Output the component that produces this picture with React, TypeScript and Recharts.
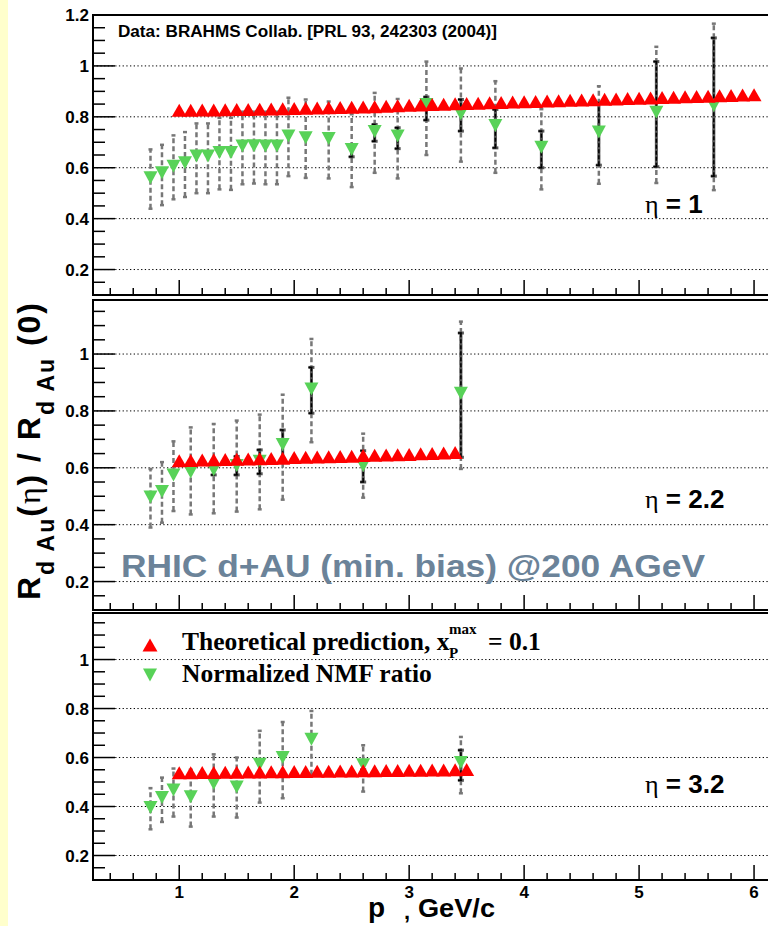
import React from "react";
import { ComposedChart, Scatter, XAxis, YAxis, ReferenceLine, ReferenceArea, ErrorBar } from "recharts";

// theory curves (red up-triangles)
const theoryX1 = [1.0, 1.1, 1.2, 1.3, 1.4, 1.5, 1.6, 1.7, 1.8, 1.9, 2.0, 2.1, 2.2, 2.3, 2.4, 2.5, 2.6, 2.7, 2.8, 2.9, 3.0, 3.1, 3.2, 3.3, 3.4, 3.5, 3.6, 3.7, 3.8, 3.9, 4.0, 4.1, 4.2, 4.3, 4.4, 4.5, 4.6, 4.7, 4.8, 4.9, 5.0, 5.1, 5.2, 5.3, 5.4, 5.5, 5.6, 5.7, 5.8, 5.9, 6.0];
const theoryY1 = [0.826, 0.826, 0.827, 0.827, 0.828, 0.829, 0.829, 0.83, 0.831, 0.832, 0.833, 0.834, 0.835, 0.836, 0.837, 0.838, 0.839, 0.84, 0.842, 0.843, 0.845, 0.846, 0.848, 0.849, 0.851, 0.852, 0.853, 0.855, 0.856, 0.858, 0.859, 0.86, 0.862, 0.863, 0.865, 0.866, 0.867, 0.869, 0.87, 0.872, 0.873, 0.874, 0.876, 0.877, 0.879, 0.88, 0.881, 0.883, 0.884, 0.886, 0.887];
const theoryX2 = [1.0, 1.1, 1.2, 1.3, 1.4, 1.5, 1.6, 1.7, 1.8, 1.9, 2.0, 2.1, 2.2, 2.3, 2.4, 2.5, 2.6, 2.7, 2.8, 2.9, 3.0, 3.1, 3.2, 3.3, 3.4];
const theoryY2 = [0.625, 0.626, 0.627, 0.628, 0.629, 0.63, 0.631, 0.632, 0.633, 0.634, 0.636, 0.637, 0.638, 0.639, 0.64, 0.641, 0.643, 0.644, 0.645, 0.646, 0.647, 0.649, 0.65, 0.652, 0.654];
const theoryX3 = [1.0, 1.1, 1.2, 1.3, 1.4, 1.5, 1.6, 1.7, 1.8, 1.9, 2.0, 2.1, 2.2, 2.3, 2.4, 2.5, 2.6, 2.7, 2.8, 2.9, 3.0, 3.1, 3.2, 3.3, 3.4, 3.5];
const theoryY3 = [0.538, 0.538, 0.539, 0.539, 0.54, 0.54, 0.541, 0.541, 0.542, 0.542, 0.543, 0.543, 0.544, 0.544, 0.545, 0.545, 0.546, 0.546, 0.547, 0.547, 0.548, 0.548, 0.549, 0.549, 0.55, 0.551];

// BRAHMS / NMF ratio (green down-triangles), eta = 1
const dataX1 = [0.75, 0.85, 0.95, 1.05, 1.15, 1.25, 1.35, 1.45, 1.55, 1.65, 1.75, 1.85, 1.95, 2.1, 2.3, 2.5, 2.7, 2.9, 3.15, 3.45, 3.75, 4.15, 4.65, 5.15, 5.65];
const dataY1 = [0.561, 0.58, 0.606, 0.62, 0.646, 0.646, 0.66, 0.66, 0.685, 0.686, 0.685, 0.685, 0.725, 0.718, 0.715, 0.672, 0.742, 0.725, 0.848, 0.812, 0.766, 0.68, 0.74, 0.818, 0.844];
const sysLo1 = [0.439, 0.453, 0.476, 0.485, 0.5, 0.5, 0.515, 0.513, 0.535, 0.538, 0.535, 0.535, 0.567, 0.56, 0.558, 0.524, 0.58, 0.558, 0.65, 0.624, 0.58, 0.515, 0.537, 0.54, 0.512];
const sysHi1 = [0.672, 0.69, 0.727, 0.74, 0.774, 0.774, 0.796, 0.796, 0.82, 0.82, 0.82, 0.82, 0.875, 0.868, 0.86, 0.81, 0.894, 0.87, 1.017, 0.99, 0.94, 0.83, 0.92, 1.075, 1.166];
const statLo1 = [null, null, null, null, null, null, null, null, null, null, null, null, null, null, null, 0.643, 0.704, 0.675, 0.787, 0.744, 0.678, 0.6, 0.61, 0.604, 0.567];
const statHi1 = [null, null, null, null, null, null, null, null, null, null, null, null, null, null, null, 0.69, 0.77, 0.757, 0.878, 0.868, 0.829, 0.744, 0.855, 1.017, 1.11];

// eta = 2.2
const dataX2 = [0.75, 0.85, 0.95, 1.1, 1.3, 1.5, 1.7, 1.9, 2.15, 2.6, 3.45];
const dataY2 = [0.497, 0.517, 0.575, 0.585, 0.593, 0.608, 0.623, 0.682, 0.877, 0.608, 0.862];
const sysLo2 = [0.39, 0.407, 0.448, 0.436, 0.44, 0.446, 0.454, 0.488, 0.69, 0.495, 0.596];
const sysHi2 = [0.596, 0.62, 0.693, 0.742, 0.754, 0.766, 0.787, 0.857, 1.053, 0.72, 1.114];
const statLo2 = [null, null, null, null, 0.575, 0.575, 0.579, 0.623, 0.792, 0.55, 0.637];
const statHi2 = [null, null, null, null, 0.615, 0.64, 0.663, 0.733, 0.953, 0.66, 1.074];

// eta = 3.2
const dataX3 = [0.75, 0.85, 0.95, 1.1, 1.3, 1.5, 1.7, 1.9, 2.15, 2.6, 3.45];
const dataY3 = [0.396, 0.437, 0.467, 0.44, 0.494, 0.48, 0.573, 0.6, 0.675, 0.57, 0.58];
const sysLo3 = [0.307, 0.337, 0.359, 0.318, 0.359, 0.355, 0.416, 0.434, 0.53, 0.461, 0.454];
const sysHi3 = [0.475, 0.518, 0.555, 0.55, 0.613, 0.6, 0.709, 0.745, 0.79, 0.65, 0.684];
const statLo3 = [null, null, null, null, null, null, null, null, null, 0.55, 0.507];
const statHi3 = [null, null, null, null, null, null, null, null, null, 0.585, 0.63];

// axis ticks
const xMajorTicks = [1, 2, 3, 4, 5, 6];
const xMinorStep = 0.2;
const yMajorTicks = [0.2, 0.4, 0.6, 0.8, 1.0, 1.2];
const yMinorStep = 0.05;
const yTickLabels: Record<string, string> = { "0.2": "0.2", "0.4": "0.4", "0.6": "0.6", "0.8": "0.8", "1": "1", "1.2": "1.2" };

const X_DOMAIN: [number, number] = [0.25, 6.13];
const SANS = "'Liberation Sans', Arial, Helvetica, sans-serif";
const SERIF = "'Liberation Serif', 'Times New Roman', serif";
const RED = "#ff0000";
const GREEN = "#58d258";

const r2 = (v: number) => Math.round(v * 1000) / 1000;

function makeTicks(lo: number, hi: number, step: number) {
  const out: number[] = [];
  for (let i = Math.ceil(lo / step - 1e-6); i * step <= hi + 1e-6; i++) out.push(r2(i * step));
  return out;
}
const xTicks = makeTicks(0.4, xMajorTicks[xMajorTicks.length - 1], xMinorStep);

const theoryRows = (xs: number[], ys: number[]) => xs.map((x, i) => ({ x, y: ys[i] }));
const dataRows = (xs: number[], ys: number[], sl: number[], sh: number[], tl: (number | null)[], th: (number | null)[]) =>
  xs.map((x, i) => ({
    x,
    y: ys[i],
    sys: [r2(ys[i] - sl[i]), r2(sh[i] - ys[i])],
    stat: tl[i] == null ? undefined : [r2(ys[i] - (tl[i] as number)), r2((th[i] as number) - ys[i])],
  }));

const UpTri = (p: any) => {
  const { cx, cy } = p;
  if (cx == null || cy == null) return <g />;
  return <path d={`M${cx - 7.5},${cy + 6.5}L${cx + 7.5},${cy + 6.5}L${cx},${cy - 6.5}Z`} fill={RED} />;
};
const DownTri = (p: any) => {
  const { cx, cy } = p;
  if (cx == null || cy == null) return <g />;
  return <path d={`M${cx - 7},${cy - 6.5}L${cx + 7},${cy - 6.5}L${cx},${cy + 6.5}Z`} fill={GREEN} />;
};
const Blank = () => <g />;

const isMult = (v: number, s: number) => Math.abs(v / s - Math.round(v / s)) < 1e-6;

const XTick = (p: any) => {
  const { x, y, payload, labels } = p;
  const v = payload.value;
  const major = isMult(v, 1);
  return (
    <g>
      <line x1={x} x2={x} y1={y} y2={y - (major ? 15 : 7)} stroke="#000" strokeWidth={1.5} />
      {major && labels && (
        <text x={x} y={y + 18} textAnchor="middle" fontFamily={SANS} fontWeight={700} fontSize={17} fill="#000">
          {String(v)}
        </text>
      )}
    </g>
  );
};

const YTick = (p: any) => {
  const { x, y, payload } = p;
  const v = payload.value;
  const major = isMult(v, 0.2);
  return (
    <g>
      <line x1={x} x2={x + (major ? 22 : 12)} y1={y} y2={y} stroke="#000" strokeWidth={1.5} />
      {major && (
        <text x={x - 4} y={y} dy="0.36em" textAnchor="end" fontFamily={SANS} fontWeight={700} fontSize={17} fill="#000">
          {yTickLabels[String(v)]}
        </text>
      )}
    </g>
  );
};

function Panel({ top, mt, plotH, xh, yMax, theory, data, labels }: any) {
  const yDomain: [number, number] = [0.1, yMax];
  const yTicks = makeTicks(0.15, yMax, yMinorStep);
  const grid = yMajorTicks.filter((v) => v <= yMax + 1e-6);
  return (
    <div style={{ position: "absolute", left: 0, top }}>
      <ComposedChart width={780} height={mt + plotH + xh} margin={{ top: mt, right: 11, bottom: 0, left: 0 }}>
        <XAxis
          type="number"
          dataKey="x"
          domain={X_DOMAIN}
          ticks={xTicks}
          interval={0}
          tickSize={0}
          tickMargin={0}
          axisLine={false}
          height={xh}
          allowDataOverflow
          tick={<XTick labels={labels} />}
        />
        <YAxis
          type="number"
          dataKey="y"
          domain={yDomain}
          ticks={yTicks}
          interval={0}
          tickSize={0}
          tickMargin={0}
          axisLine={false}
          width={93}
          allowDataOverflow
          tick={<YTick />}
        />
        {grid.map((v) => (
          <ReferenceLine key={v} y={v} stroke="#000" strokeWidth={1} strokeDasharray="1.3 2.4" />
        ))}
        <Scatter data={data} dataKey="y" shape={DownTri} isAnimationActive={false} />
        <Scatter data={theory} dataKey="y" shape={UpTri} isAnimationActive={false} />
        <Scatter data={data} dataKey="y" shape={Blank} isAnimationActive={false}>
          <ErrorBar dataKey="sys" direction="y" width={2} stroke="#777" strokeWidth={2.5} strokeDasharray="5 3" isAnimationActive={false} />
          <ErrorBar dataKey="stat" direction="y" width={3} stroke="#555" strokeWidth={3} isAnimationActive={false} />
          <ErrorBar dataKey="stat" direction="y" width={3} stroke="#000" strokeWidth={1.5} strokeDasharray="4 2" isAnimationActive={false} />
        </Scatter>
        <ReferenceArea x1={X_DOMAIN[0]} x2={X_DOMAIN[1]} y1={yDomain[0]} y2={yDomain[1]} fill="none" stroke="#000" strokeWidth={2} ifOverflow="visible" />
      </ComposedChart>
    </div>
  );
}

export default function App() {
  const t1 = theoryRows(theoryX1, theoryY1);
  const t2 = theoryRows(theoryX2, theoryY2);
  const t3 = theoryRows(theoryX3, theoryY3);
  const d1 = dataRows(dataX1, dataY1, sysLo1, sysHi1, statLo1, statHi1);
  const d2 = dataRows(dataX2, dataY2, sysLo2, sysHi2, statLo2, statHi2);
  const d3 = dataRows(dataX3, dataY3, sysLo3, sysHi3, statLo3, statHi3);
  return (
    <div style={{ position: "absolute", left: 0, top: 0, width: 768, height: 926, overflow: "hidden", background: "#fff" }}>
      <div style={{ position: "absolute", left: 0, top: 0, width: 8, height: 926, background: "#ffffcc" }} />
      <Panel top={0} mt={15} plotH={280} xh={2} yMax={1.2} theory={t1} data={d1} labels={false} />
      <Panel top={298} mt={2} plotH={310} xh={2} yMax={1.19} theory={t2} data={d2} labels={false} />
      <Panel top={611} mt={2} plotH={267} xh={40} yMax={1.19} theory={t3} data={d3} labels={true} />
      <svg width={768} height={926} style={{ position: "absolute", left: 0, top: 0, pointerEvents: "none" }}>
        <text x={118} y={37} fontFamily={SANS} fontWeight={700} fontSize={16} textLength={379} lengthAdjust="spacingAndGlyphs">
          Data: BRAHMS Collab. [PRL 93, 242303 (2004)]
        </text>
        <text x={645} y={213} fontFamily={SANS} fontWeight={700} fontSize={26}>
          <tspan fontFamily={SERIF} fontWeight={400}>η</tspan> = 1
        </text>
        <text x={645} y={508} fontFamily={SANS} fontWeight={700} fontSize={26}>
          <tspan fontFamily={SERIF} fontWeight={400}>η</tspan> = 2.2
        </text>
        <text x={645} y={793} fontFamily={SANS} fontWeight={700} fontSize={26}>
          <tspan fontFamily={SERIF} fontWeight={400}>η</tspan> = 3.2
        </text>
        <text x={121} y={577} fontFamily={SANS} fontWeight={700} fontSize={32} fill="#6b8399" textLength={584} lengthAdjust="spacingAndGlyphs">
          RHIC d+AU (min. bias) @200 AGeV
        </text>
        {/* legend */}
        <path d="M142.5,651.5L157.5,651.5L150,638.5Z" fill={RED} />
        <path d="M143,668.5L157,668.5L150,681.5Z" fill={GREEN} />
        <text fontFamily={SERIF} fontWeight={700} fontSize={25.5} fill="#000">
          <tspan x={182} y={650}>Theoretical prediction, x</tspan>
          <tspan x={449} y={658} fontSize={15}>P</tspan>
          <tspan x={449} y={634} fontSize={15}>max</tspan>
          <tspan x={488} y={650}>= 0.1</tspan>
          <tspan x={182} y={682}>Normalized NMF ratio</tspan>
        </text>
        {/* axis titles */}
        <text x={368} y={917} fontFamily={SANS} fontWeight={700} fontSize={28}>p</text>
        <text x={404} y={919} fontFamily={SANS} fontWeight={700} fontSize={22}>,</text>
        <text x={418} y={917} fontFamily={SANS} fontWeight={700} fontSize={26} textLength={77} lengthAdjust="spacingAndGlyphs">GeV/c</text>
        <text transform="translate(40,600) rotate(-90)" fontFamily={SANS} fontWeight={700} fontSize={32} fill="#000" textLength={297} lengthAdjust="spacing">
          R<tspan fontSize={23} dy={14}>d Au</tspan>
          <tspan dy={-14}>(</tspan>
          <tspan fontFamily={SERIF} fontWeight={400}>η</tspan>
          <tspan>) / R</tspan>
          <tspan fontSize={23} dy={14}>d Au</tspan>
          <tspan dy={-14}> (0)</tspan>
        </text>
      </svg>
    </div>
  );
}
